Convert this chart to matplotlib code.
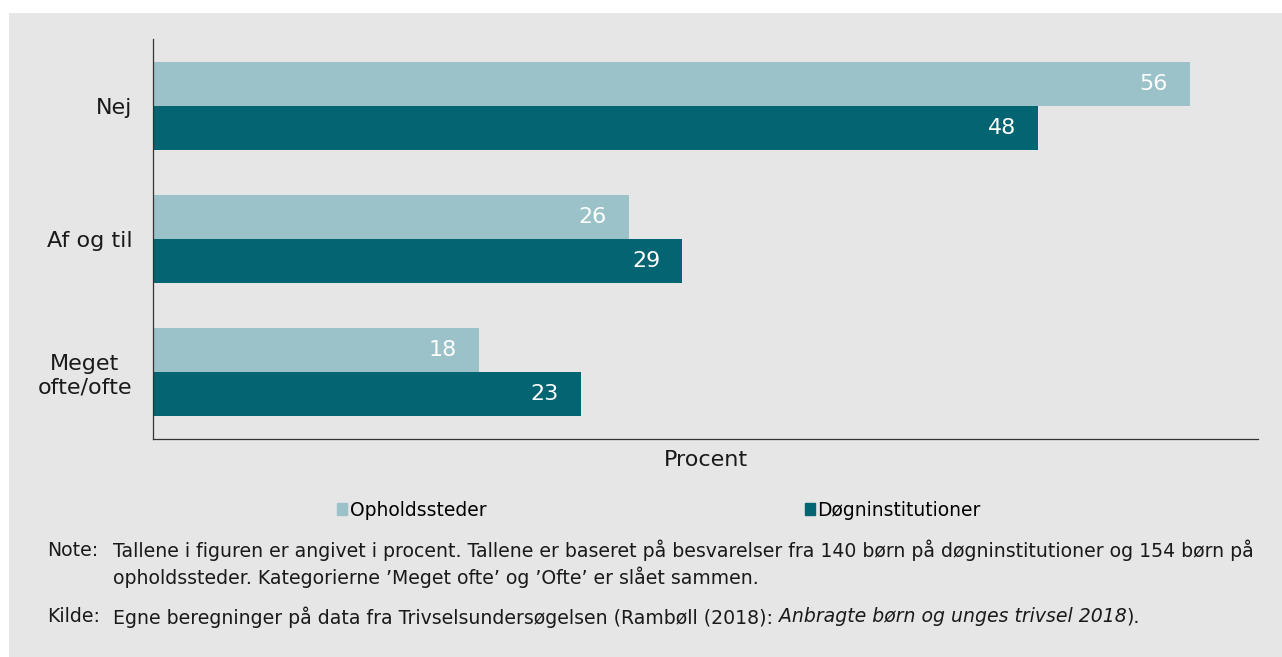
import matplotlib.pyplot as plt
import matplotlib.patches as mpatches
import numpy as np

categories = ['Nej', 'Af og til', 'Meget\nofte/ofte']
opholdssteder = [56.0, 25.7, 17.6]
doegninst = [47.8, 28.6, 23.1]
series_names = ['Opholdssteder', 'Døgninstitutioner']
light = '#9bc2c9'
dark = '#036472'
bg = '#e6e6e6'

W, H = 1282, 657
fig = plt.figure(figsize=(W / 100, H / 100), dpi=100, facecolor='white')
# grey panel behind everything
fig.patches.append(mpatches.Rectangle((9 / W, 0), 1 - 9 / W, 1 - 13 / H,
                                      transform=fig.transFigure, facecolor=bg,
                                      edgecolor='none', zorder=-10))

ax = fig.add_axes([153 / W, 1 - 439 / H, (1258 - 153) / W, 400 / H])
ax.set_facecolor(bg)

y = np.arange(len(categories))
h = 0.33
b1 = ax.barh(y - h / 2, opholdssteder, height=h, color=light)
b2 = ax.barh(y + h / 2, doegninst, height=h, color=dark)

for bars, vals in [(b1, opholdssteder), (b2, doegninst)]:
    for rect, v in zip(bars, vals):
        ax.annotate(f'{v:.0f}', (v, rect.get_y() + rect.get_height() / 2),
                    xytext=(-22, 0), textcoords='offset pixels',
                    ha='right', va='center', color='white', fontsize=16)

ax.set_xlim(0, 59.7)
ax.set_ylim(2.5, -0.5)
ax.set_yticks(y)
ax.set_yticklabels(categories, fontsize=16, color='#1a1a1a')
for lab in ax.get_yticklabels():
    lab.set_multialignment('center')
ax.tick_params(axis='y', length=0, pad=15)
ax.set_xticks([])
ax.set_xlabel('Procent', fontsize=16, color='#1a1a1a', labelpad=8)
for s in ['top', 'right']:
    ax.spines[s].set_visible(False)
for s in ['left', 'bottom']:
    ax.spines[s].set_color('#333333')
    ax.spines[s].set_linewidth(0.9)

# legend entries placed separately, as in the reference
for name, col, xpos in [(series_names[0], light, 337), (series_names[1], dark, 805)]:
    fig.legend(handles=[mpatches.Patch(color=col, label=name)],
               loc='center left', bbox_to_anchor=(xpos / W, 1 - 510 / H),
               frameon=False, borderpad=0, borderaxespad=0,
               handlelength=0.55, handleheight=0.55, handletextpad=0.12,
               prop={'size': 13.5})

note_kw = dict(fontsize=13.6, color='#1a1a1a', va='center')
fig.text(47 / W, 1 - 550 / H, 'Note:', **note_kw)
fig.text(113 / W, 1 - 550 / H,
         'Tallene i figuren er angivet i procent. Tallene er baseret på besvarelser '
         'fra 140 børn på døgninstitutioner og 154 børn på', **note_kw)
fig.text(113 / W, 1 - 577 / H,
         'opholdssteder. Kategorierne \u2019Meget ofte\u2019 og \u2019Ofte\u2019 er slået sammen.',
         **note_kw)
fig.text(47 / W, 1 - 617 / H, 'Kilde:', **note_kw)

r = fig.canvas.get_renderer()
t1 = fig.text(113 / W, 1 - 617 / H,
              'Egne beregninger på data fra Trivselsundersøgelsen (Rambøll (2018): ', **note_kw)
x1 = t1.get_window_extent(r).x1
t2 = fig.text(x1 / W, 1 - 617 / H, 'Anbragte børn og unges trivsel 2018',
              style='italic', **note_kw)
x2 = t2.get_window_extent(r).x1
fig.text(x2 / W, 1 - 617 / H, ').', **note_kw)

fig.savefig('out.png', dpi=100, facecolor='white')
